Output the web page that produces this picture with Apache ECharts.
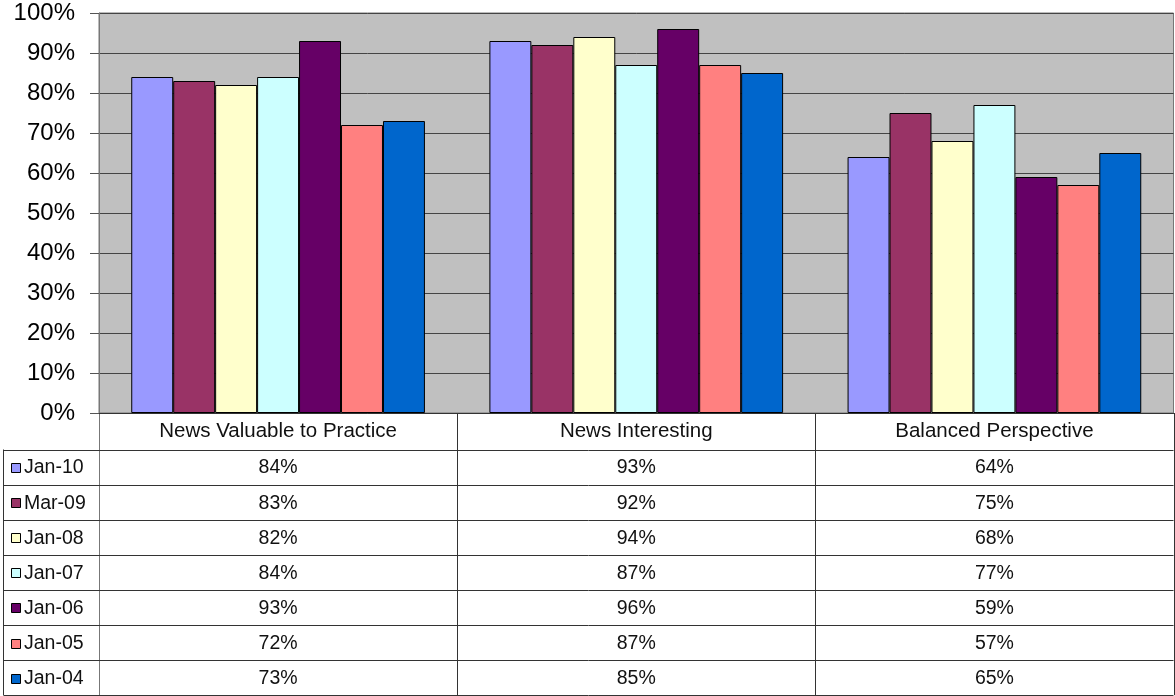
<!DOCTYPE html>
<html>
<head>
<meta charset="utf-8">
<script src="https://cdn.jsdelivr.net/npm/echarts@6/dist/echarts.min.js"></script>
<style>
html,body{margin:0;padding:0;background:#fff;}
#chart{width:1175px;height:696px;}
</style>
</head>
<body>
<div id="chart"></div>
<script>
// ---- data ----
const categories = ['News Valuable to Practice', 'News Interesting', 'Balanced Perspective'];
const seriesNames = ['Jan-10', 'Mar-09', 'Jan-08', 'Jan-07', 'Jan-06', 'Jan-05', 'Jan-04'];
const jan10 = [84, 93, 64];
const mar09 = [83, 92, 75];
const jan08 = [82, 94, 68];
const jan07 = [84, 87, 77];
const jan06 = [93, 96, 59];
const jan05 = [72, 87, 57];
const jan04 = [73, 85, 65];
const seriesValues = [jan10, mar09, jan08, jan07, jan06, jan05, jan04];
const seriesColors = ['#9999FF', '#993366', '#FFFFCC', '#CCFFFF', '#660066', '#FF8080', '#0066CC'];

// ---- layout ----
const FONT = "'Liberation Sans', Arial, sans-serif";
const GRID_LEFT = 99, GRID_RIGHT = 1.5, GRID_TOP = 13, GRID_BOTTOM_Y = 413;
const TABLE_LEFT = 3.5, HEADER_BOTTOM = 449.5, ROW_H = 35.1;
const TABLE_FONT = 19.5;
const HEADER_FONT = 20.5;

const chart = echarts.init(document.getElementById('chart'), null, {renderer: 'canvas'});

const series = seriesNames.map((name, i) => ({
  name: name,
  type: 'bar',
  data: seriesValues[i],
  barGap: '0%',
  barCategoryGap: '18%',
  itemStyle: {color: seriesColors[i], borderColor: '#000', borderWidth: 1},
  emphasis: {disabled: true},
  animation: false
}));

chart.setOption({
  animation: false,
  grid: {
    left: GRID_LEFT, right: GRID_RIGHT, top: GRID_TOP, bottom: 696 - GRID_BOTTOM_Y,
    show: true, backgroundColor: '#C0C0C0', borderColor: '#777', borderWidth: 1,
    containLabel: false
  },
  xAxis: {
    type: 'category',
    data: categories,
    axisLine: {show: true, lineStyle: {color: '#333', width: 1}},
    axisTick: {show: false},
    axisLabel: {show: true, margin: 8, color: '#111', fontFamily: FONT, fontSize: HEADER_FONT, interval: 0}
  },
  yAxis: {
    type: 'value',
    min: 0, max: 100, interval: 10,
    axisLine: {show: true, lineStyle: {color: '#777', width: 1}},
    axisTick: {show: true, inside: false, length: 9, lineStyle: {color: '#555'}},
    axisLabel: {formatter: '{value}%', margin: 24, color: '#000', fontFamily: FONT, fontSize: 24},
    splitLine: {show: true, lineStyle: {color: '#444', width: 1}}
  },
  series: series
});

// ---- data table under the plot ----
const W = 1175;
const tableRight = W - GRID_RIGHT;
const centers = categories.map((c, j) => chart.convertToPixel({xAxisIndex: 0}, c));
const bounds = [GRID_LEFT];
for (let j = 0; j < centers.length - 1; j++) bounds.push((centers[j] + centers[j + 1]) / 2);
bounds.push(tableRight);
const tableBottom = HEADER_BOTTOM + ROW_H * seriesNames.length;

const els = [];
const lineStyle = {stroke: '#333', lineWidth: 1};
// vertical lines
els.push({type: 'line', shape: {x1: TABLE_LEFT, y1: HEADER_BOTTOM, x2: TABLE_LEFT, y2: tableBottom}, style: lineStyle, silent: true});
bounds.forEach((bx, k) => {
  const y1 = k === 0 ? GRID_BOTTOM_Y - 0.5 : GRID_BOTTOM_Y;
  els.push({type: 'line', shape: {x1: Math.round(bx) + 0.5, y1: y1, x2: Math.round(bx) + 0.5, y2: tableBottom}, style: {stroke: k === 0 ? '#777' : '#333', lineWidth: 1}, silent: true});
});
// horizontal lines
for (let r = 0; r <= seriesNames.length; r++) {
  const y = Math.round(HEADER_BOTTOM + r * ROW_H) + 0.5;
  els.push({type: 'line', shape: {x1: TABLE_LEFT, y1: y, x2: tableRight, y2: y}, style: lineStyle, silent: true});
}
// rows
seriesNames.forEach((name, i) => {
  const yc = HEADER_BOTTOM + (i + 0.5) * ROW_H + 1;
  els.push({type: 'rect', shape: {x: 11.5, y: Math.round(yc - 5) + 0.5, width: 9, height: 9},
    style: {fill: seriesColors[i], stroke: '#000', lineWidth: 1}, silent: true});
  els.push({type: 'text', x: 24, y: yc, style: {text: name, font: TABLE_FONT + 'px ' + FONT, fill: '#111', align: 'left', verticalAlign: 'middle'}, silent: true});
  seriesValues[i].forEach((v, j) => {
    els.push({type: 'text', x: centers[j], y: yc, style: {text: v + '%', font: TABLE_FONT + 'px ' + FONT, fill: '#111', align: 'center', verticalAlign: 'middle'}, silent: true});
  });
});
chart.setOption({graphic: {elements: els}});
</script>
</body>
</html>
